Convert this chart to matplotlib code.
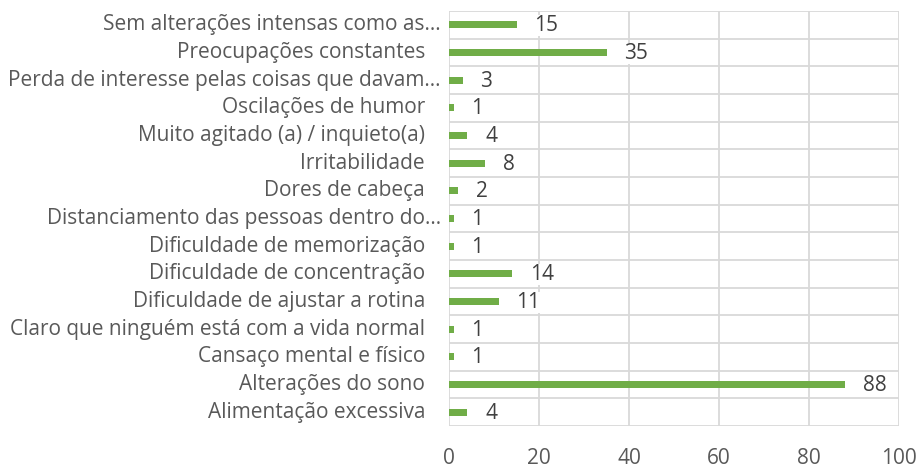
import matplotlib
matplotlib.use("Agg")
import matplotlib.pyplot as plt
import matplotlib.transforms as mtransforms

categories = [
    "Sem alterações intensas como as…",
    "Preocupações constantes",
    "Perda de interesse pelas coisas que davam…",
    "Oscilações de humor",
    "Muito agitado (a) / inquieto(a)",
    "Irritabilidade",
    "Dores de cabeça",
    "Distanciamento das pessoas dentro do…",
    "Dificuldade de memorização",
    "Dificuldade de concentração",
    "Dificuldade de ajustar a rotina",
    "Claro que ninguém está com a vida normal",
    "Cansaço mental e físico",
    "Alterações do sono",
    "Alimentação excessiva",
]
values = [15, 35, 3, 1, 4, 8, 2, 1, 1, 14, 11, 1, 1, 88, 4]
xticks = [0, 20, 40, 60, 80, 100]

FONT = "Open Sans"
FS = 15
BAR = "#70AD47"
GRID = "#D9D9D9"
TXT = "#595959"
VAL = "#404040"

fig = plt.figure(figsize=(9.19, 4.69), dpi=100)
W, H = 919, 469
ax = fig.add_axes([449 / W, 1 - 426 / H, (899 - 449) / W, (426 - 11) / H])

n = len(categories)
ypos = list(range(n))
ax.barh(ypos, values, height=0.26, color=BAR, zorder=2)

ax.set_xlim(0, 100)
ax.set_ylim(n - 0.5, -0.5)
ax.set_xticks(xticks)
ax.set_xticklabels([str(t) for t in xticks], fontsize=FS, color=TXT, family=FONT)
ax.tick_params(axis="x", length=0, pad=16)
ax.set_yticks([])
for i in range(n + 1):
    ax.axhline(i - 0.5, color=GRID, lw=1.3, zorder=1)
for t in xticks:
    ax.axvline(t, color=GRID, lw=1.3, zorder=1)
for s in ax.spines.values():
    s.set_visible(False)

# category labels
blend = mtransforms.blended_transform_factory(ax.transAxes, ax.transData)
for i, c in enumerate(categories):
    dx = -8 if c.endswith("…") else -24
    off = mtransforms.ScaledTranslation(dx / 100, 0, fig.dpi_scale_trans)
    ax.text(0, i, c, transform=blend + off, ha="right", va="center",
            fontsize=FS, color=TXT, family=FONT)

# value labels
for i, v in enumerate(values):
    off = mtransforms.ScaledTranslation(18 / 100, -1 / 100, fig.dpi_scale_trans)
    ax.text(v, i, str(v), transform=ax.transData + off, ha="left", va="center",
            fontsize=FS, color=VAL, family=FONT, zorder=3,
            bbox=dict(boxstyle="square,pad=0.0", fc="white", ec="none"))

fig.savefig("out.png", dpi=100)
